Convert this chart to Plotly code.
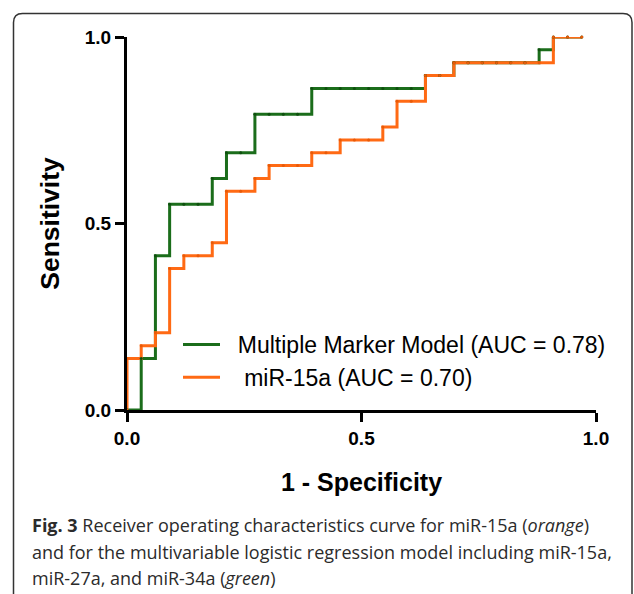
import plotly.graph_objects as go

# ROC data: 33 negatives (x steps), 29 positives (y steps)
n_neg = 33
n_pos = 29
fpr_steps = list(range(0, 33))  # k/33
green_tp = [0, 4, 12, 16, 16, 16, 18, 20, 20, 23, 23, 23, 23, 25, 25, 25, 25, 25, 25, 25, 25,
            26, 26, 27, 27, 27, 27, 27, 27, 28, 29, 29, 29]
orange_tp = [4, 5, 6, 11, 12, 12, 13, 17, 17, 18, 19, 19, 19, 20, 20, 21, 21, 21, 22, 24, 24,
             26, 26, 27, 27, 27, 27, 27, 27, 27, 29, 29, 29]

green_name = "\u00a0\u00a0Multiple Marker Model (AUC = 0.78)"
orange_name = "\u00a0\u00a0\u00a0miR-15a (AUC = 0.70)"
tick_vals = [0, 0.5, 1.0]
tick_text = ["0.0", "0.5", "1.0"]

green_x = [0] + [k / n_neg for k in fpr_steps]
green_y = [0] + [v / n_pos for v in green_tp]
orange_x = [0] + [k / n_neg for k in fpr_steps]
orange_y = [0] + [v / n_pos for v in orange_tp]

GREEN = "#1b6d1b"
ORANGE = "#ff6a14"

fig = go.Figure()
fig.add_trace(go.Scatter(x=green_x, y=green_y, mode="lines", line=dict(color=GREEN, width=3, shape="hv"),
                         name=green_name, cliponaxis=False))
fig.add_trace(go.Scatter(x=orange_x, y=orange_y, mode="lines", line=dict(color=ORANGE, width=3, shape="hv"),
                         name=orange_name, cliponaxis=False))
fig.add_trace(go.Scatter(x=green_x, y=green_y, mode="markers", marker=dict(color="#0f4f0f", size=3),
                         showlegend=False, hoverinfo="skip", cliponaxis=False))
fig.add_trace(go.Scatter(x=orange_x, y=orange_y, mode="markers", marker=dict(color="#e85a08", size=3),
                         showlegend=False, hoverinfo="skip", cliponaxis=False))

L, R, T, B = 127, 38, 37, 184
W, H = 634, 594
pw = W - L - R
ph = H - T - B


def px(xp):
    return (xp - L) / pw


def py(yp):
    return (H - B - yp) / ph


axis_common = dict(
    range=[0, 1], showgrid=False, zeroline=False, showline=True, linewidth=3, linecolor="black",
    ticks="outside", ticklen=9, tickwidth=2.5, tickcolor="black",
    tickvals=tick_vals, ticktext=tick_text,
    tickfont=dict(family="Liberation Sans, Arial", size=19, color="black", weight="bold"),
    fixedrange=True,
)

fig.update_xaxes(**axis_common,
                 title=dict(text="1 - Specificity", standoff=26,
                            font=dict(family="Liberation Sans, Arial", size=25, color="black", weight="bold")))
fig.update_yaxes(**axis_common,
                 title=dict(text="Sensitivity", standoff=18,
                            font=dict(family="Liberation Sans, Arial", size=26.5, color="black", weight="bold")))

# rounded frame
left, top, right, bottom, r = 13.5, 13.5, 632, 600, 9
path = (f"M {px(left)},{py(bottom)} L {px(left)},{py(top + r)} "
        f"Q {px(left)},{py(top)} {px(left + r)},{py(top)} "
        f"L {px(right - r)},{py(top)} Q {px(right)},{py(top)} {px(right)},{py(top + r)} "
        f"L {px(right)},{py(bottom)}")
fig.add_shape(type="path", path=path, xref="paper", yref="paper",
              line=dict(color="#333333", width=1.5))

caption_lines = [
    "<b>Fig. 3</b> Receiver operating characteristics curve for miR-15a (<i>orange</i>)",
    "and for the multivariable logistic regression model including miR-15a,",
    "miR-27a, and miR-34a (<i>green</i>)",
]
caption_y = [525, 552, 578]
for txt, yy in zip(caption_lines, caption_y):
    fig.add_annotation(text=txt, xref="paper", yref="paper", x=px(30), y=py(yy),
                       xanchor="left", yanchor="middle", showarrow=False, align="left",
                       font=dict(family="Open Sans", size=18, color="#2b2b2b"))

fig.update_layout(
    width=W, height=H,
    margin=dict(l=L, r=R, t=T, b=B, pad=0),
    plot_bgcolor="white", paper_bgcolor="white",
    legend=dict(x=px(178), y=py(323), xanchor="left", yanchor="top",
                font=dict(family="Liberation Sans, Arial", size=23, color="black"),
                bgcolor="rgba(0,0,0,0)", tracegroupgap=0, itemwidth=37),
    showlegend=True,
)

fig.write_html("out.html", config={"displayModeBar": False},
               post_script="document.body.style.margin='0';document.body.style.overflow='hidden';")
